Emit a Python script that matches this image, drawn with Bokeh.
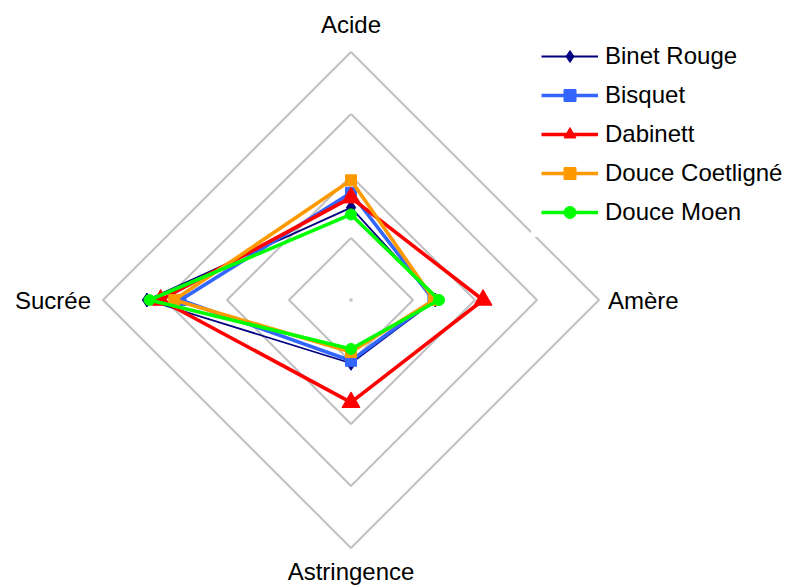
import numpy as np
from bokeh.plotting import figure
from bokeh.models import Range1d, Legend, LegendItem, ColumnDataSource
from bokeh.core.properties import value
from bokeh.embed import file_html
from bokeh.resources import INLINE

# ---- data ----
axes_labels = ["Acide", "Amère", "Astringence", "Sucrée"]
ring_levels = [1, 2, 3, 4]
series_names = ["Binet Rouge", "Bisquet", "Dabinett", "Douce Coetligné", "Douce Moen"]
binet_rouge = [1.49, 1.36, 1.02, 3.29]
bisquet = [1.73, 1.33, 0.98, 2.75]
dabinett = [1.65, 2.13, 1.65, 3.07]
douce_coetligne = [1.93, 1.34, 0.84, 2.85]
douce_moen = [1.38, 1.42, 0.79, 3.25]
series_values = [binet_rouge, bisquet, dabinett, douce_coetligne, douce_moen]

# ---- styles ----
colors = ["#000080", "#3366FF", "#FF0000", "#FF9900", "#00FF00"]
markers = ["diamond", "square", "triangle", "square", "circle"]
marker_sizes = [14, 11, 18, 11, 11]
line_widths = [1.8, 3.6, 3.6, 3.6, 3.6]
GRID = "#C0C0C0"
FONT = value("Liberation Sans")
FS = "24px"

W, H = 790, 585
UNIT = 62.0            # pixels per unit
CX, CY = 350.5, 299.5  # pixel centre
R_MAX = max(ring_levels)

p = figure(width=W, height=H,
           x_range=Range1d(-CX / UNIT, (W - CX) / UNIT),
           y_range=Range1d(-(H - CY) / UNIT, CY / UNIT),
           output_backend="svg", toolbar_location=None,
           x_axis_location=None, y_axis_location=None,
           min_border=0, outline_line_color=None)
p.background_fill_color = "white"
p.border_fill_color = "white"
p.grid.visible = False

n = len(axes_labels)
ang = np.pi / 2 - np.arange(n) * 2 * np.pi / n
cosa, sina = np.cos(ang), np.sin(ang)

# grid rings
for lv in ring_levels:
    xs = list(lv * cosa) + [lv * cosa[0]]
    ys = list(lv * sina) + [lv * sina[0]]
    p.line(xs, ys, line_color=GRID, line_width=2)
p.scatter([0], [0], marker="square", size=3, fill_color=GRID, line_color=None)

# series
items = []
for name, vals, c, m, ms, lw in zip(series_names, series_values, colors, markers,
                                      marker_sizes, line_widths):
    v = np.array(vals)
    xs = v * cosa
    ys = v * sina
    lr = p.line(list(xs) + [xs[0]], list(ys) + [ys[0]], line_color=c, line_width=lw)
    sr = p.scatter(xs, ys, marker=m, size=ms, fill_color=c, line_color=c)
    items.append(LegendItem(label=name, renderers=[lr, sr]))

# axis category labels
lab_src = ColumnDataSource(dict(
    x=[0, R_MAX + 9 / UNIT, 0, -(R_MAX + 12 / UNIT)],
    y=[R_MAX + 27.5 / UNIT, 0, -(R_MAX + 23.5 / UNIT), 0],
    text=axes_labels,
    align=["center", "left", "center", "right"],
))
p.text(x="x", y="y", text="text", source=lab_src, text_align="align",
       text_baseline="middle", text_font=FONT, text_font_size=FS, text_color="black")

legend = Legend(items=items, location=(531, H - 237), margin=0, padding=10,
                glyph_width=57, glyph_height=30, label_height=30, spacing=9,
                label_standoff=7, label_text_font="Liberation Sans",
                label_text_font_size=FS, label_text_color="black",
                border_line_alpha=0,
                background_fill_color="white", background_fill_alpha=1.0)
p.add_layout(legend)

open("out.html", "w").write(file_html(p, INLINE))
